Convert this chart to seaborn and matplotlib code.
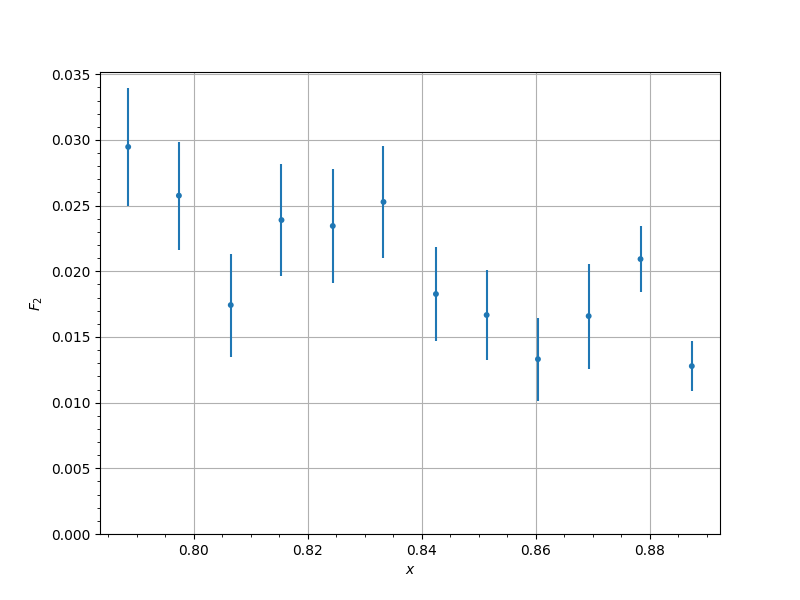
import matplotlib
matplotlib.use("Agg")
import matplotlib.pyplot as plt
import seaborn as sns
import pandas as pd

# Wartości
x_vals = [0.7885, 0.7974, 0.8065, 0.8154, 0.8244, 0.8333,
          0.8425, 0.8514, 0.8604, 0.8693, 0.8784, 0.8874]
f2_vals = [0.02947, 0.02576, 0.01743, 0.02390, 0.02345, 0.02528,
           0.01827, 0.01667, 0.01331, 0.01659, 0.02093, 0.01278]
f2_err = [0.00451, 0.00412, 0.00392, 0.00423, 0.00433, 0.00427,
          0.00361, 0.00346, 0.00315, 0.00400, 0.00251, 0.00193]

df = pd.DataFrame({"x": x_vals, "F2": f2_vals, "err": f2_err})

fig, ax = plt.subplots(figsize=(8, 6), dpi=100)
ax.errorbar(df["x"], df["F2"], yerr=df["err"], fmt="none",
            ecolor="#1f77b4", elinewidth=1.5, zorder=2)
sns.scatterplot(data=df, x="x", y="F2", ax=ax, s=18, color="#1f77b4",
                edgecolor="none", zorder=3)

ax.set_ylim(bottom=0)
ax.minorticks_on()
ax.grid(True, which="major", color="#b0b0b0", linewidth=0.8)
ax.set_axisbelow(True)
ax.set_xlabel("$x$")
ax.set_ylabel("$F_2$")

plt.savefig("out.png", dpi=100)
plt.close()
